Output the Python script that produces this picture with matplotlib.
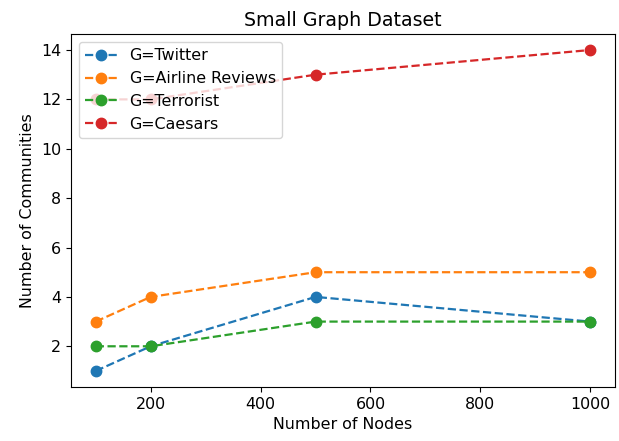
import matplotlib
matplotlib.use('Agg')
from matplotlib import pyplot as plt

nodes = [100, 200, 500, 1000]
twitter = [1, 2, 4, 3]
airline = [3, 4, 5, 5]
terrorist = [2, 2, 3, 3]
caesars = [12, 12, 13, 14]

series = [('G=Twitter', twitter),
          ('G=Airline Reviews', airline),
          ('G=Terrorist', terrorist),
          ('G=Caesars', caesars)]

# reference looks like a slightly upscaled notebook figure
plt.rcParams['font.size'] = 11.4
plt.rcParams['lines.linewidth'] = 1.6

fig = plt.figure(figsize=(6.19, 4.41), dpi=100)
ax = fig.add_axes([0.1147, 0.1224, 0.8788, 0.8006])

for name, vals in series:
    ax.plot(nodes, vals, linestyle='--', marker='o', markersize=7.5, label=name)

ax.set_title('Small Graph Dataset')
ax.set_xlabel('Number of Nodes')
ax.set_ylabel('Number of Communities')
ax.legend(loc='upper left')

fig.savefig('out.png', dpi=100)
